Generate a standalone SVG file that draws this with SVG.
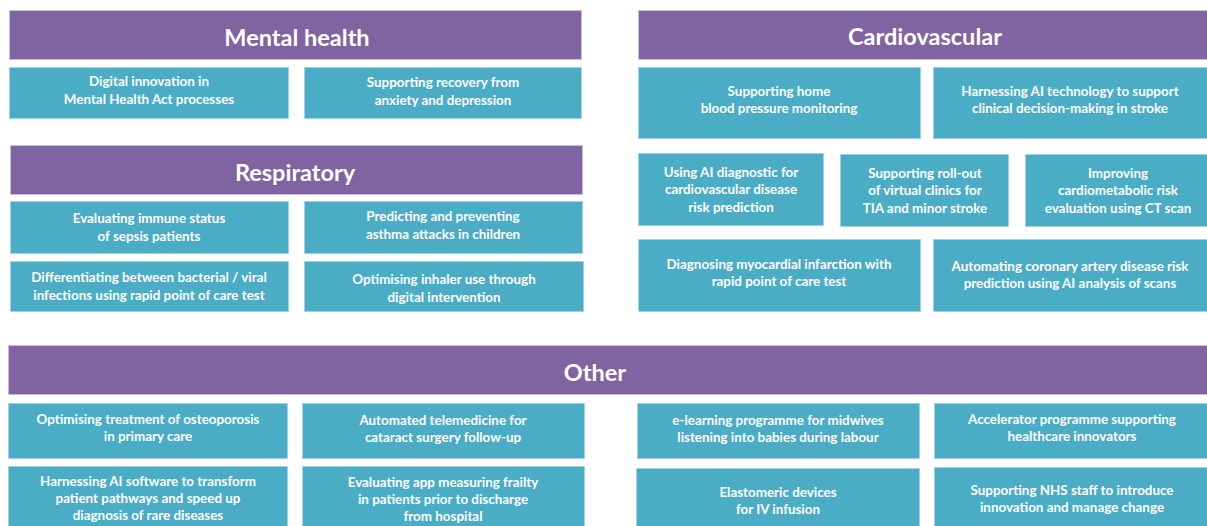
<svg xmlns="http://www.w3.org/2000/svg" width="1207" height="526" viewBox="0 0 1207 526">
<style>
.hd{fill:#8064A2;stroke:#C8BEDA;stroke-width:1}
.bx{fill:#4BACC6;stroke:#A3D3E2;stroke-width:1}
.ht{font-family:Lato,"Liberation Sans",sans-serif;font-weight:bold;font-size:23.5px;fill:#fff;text-anchor:middle}
.t{font-family:Lato,"Liberation Sans",sans-serif;font-weight:bold;font-size:13.4px;fill:#fff;text-anchor:middle}
</style>
<rect width="1207" height="526" fill="#fff"/>
<g id="mental-health">
<rect class="hd" x="9.5" y="10.5" width="572" height="49"/>
<text class="ht" x="297" y="46">Mental health</text>
</g>
<g id="mh1"><rect class="bx" x="9.5" y="67.5" width="279" height="51"/>
<text class="t" x="149" y="86">Digital innovation in</text><text class="t" x="149" y="104">Mental Health Act processes</text></g>
<g id="mh2"><rect class="bx" x="304.5" y="67.5" width="277" height="51"/>
<text class="t" x="443" y="87">Supporting recovery from</text><text class="t" x="443" y="105">anxiety and depression</text></g>

<g id="respiratory">
<rect class="hd" x="10.5" y="145.5" width="572" height="49"/>
<text class="ht" x="295" y="181">Respiratory</text>
</g>
<g id="r1"><rect class="bx" x="10.5" y="201.5" width="278" height="52"/>
<text class="t" x="149" y="223">Evaluating immune status</text><text class="t" x="149" y="241">of sepsis patients</text></g>
<g id="r2"><rect class="bx" x="304.5" y="201.5" width="278" height="52"/>
<text class="t" x="443" y="221">Predicting and preventing</text><text class="t" x="443" y="239">asthma attacks in children</text></g>
<g id="r3"><rect class="bx" x="10.5" y="261.5" width="278" height="50"/>
<text class="t" x="149" y="282">Differentiating between bacterial / viral</text><text class="t" x="149" y="300">infections using rapid point of care test</text></g>
<g id="r4"><rect class="bx" x="304.5" y="261.5" width="279" height="50"/>
<text class="t" x="444" y="284">Optimising inhaler use through</text><text class="t" x="444" y="302">digital intervention</text></g>

<g id="cardiovascular">
<rect class="hd" x="638.5" y="10.5" width="570" height="49"/>
<text class="ht" x="925" y="45">Cardiovascular</text>
</g>
<g id="c1"><rect class="bx" x="638.5" y="67.5" width="282" height="71"/>
<text class="t" x="779" y="96">Supporting home</text><text class="t" x="779" y="113">blood pressure monitoring</text></g>
<g id="c2"><rect class="bx" x="933.5" y="67.5" width="275" height="71"/>
<text class="t" x="1070" y="96">Harnessing AI technology to support</text><text class="t" x="1070" y="113">clinical decision-making in stroke</text></g>
<g id="c3"><rect class="bx" x="638.5" y="153.5" width="185" height="72"/>
<text class="t" x="731" y="177">Using AI diagnostic for</text><text class="t" x="731" y="194">cardiovascular disease</text><text class="t" x="731" y="212">risk prediction</text></g>
<g id="c4"><rect class="bx" x="840.5" y="154.5" width="168" height="72"/>
<text class="t" x="925" y="178">Supporting roll-out</text><text class="t" x="925" y="195">of virtual clinics for</text><text class="t" x="925" y="213">TIA and minor stroke</text></g>
<g id="c5"><rect class="bx" x="1025.5" y="154.5" width="183" height="72"/>
<text class="t" x="1118" y="178">Improving</text><text class="t" x="1118" y="195">cardiometabolic risk</text><text class="t" x="1118" y="213">evaluation using CT scan</text></g>
<g id="c6"><rect class="bx" x="638.5" y="239.5" width="282" height="72"/>
<text class="t" x="779" y="269">Diagnosing myocardial infarction with</text><text class="t" x="779" y="286">rapid point of care test</text></g>
<g id="c7"><rect class="bx" x="933.5" y="239.5" width="275" height="72"/>
<text class="t" x="1070" y="271">Automating coronary artery disease risk</text><text class="t" x="1070" y="288">prediction using AI analysis of scans</text></g>

<g id="other">
<rect class="hd" x="8.5" y="345.5" width="1200" height="49"/>
<text class="ht" x="595" y="381">Other</text>
</g>
<g id="o1"><rect class="bx" x="8.5" y="403.5" width="279" height="55"/>
<text class="t" x="148" y="424">Optimising treatment of osteoporosis</text><text class="t" x="148" y="441">in primary care</text></g>
<g id="o2"><rect class="bx" x="302.5" y="403.5" width="282" height="55"/>
<text class="t" x="443" y="425">Automated telemedicine for</text><text class="t" x="443" y="442">cataract surgery follow-up</text></g>
<g id="o3"><rect class="bx" x="637.5" y="403.5" width="282" height="55"/>
<text class="t" x="778" y="425">e-learning programme for midwives</text><text class="t" x="778" y="442">listening into babies during labour</text></g>
<g id="o4"><rect class="bx" x="934.5" y="403.5" width="274" height="55"/>
<text class="t" x="1072" y="424">Accelerator programme supporting</text><text class="t" x="1072" y="441">healthcare innovators</text></g>
<g id="o5"><rect class="bx" x="8.5" y="466.5" width="279" height="65"/>
<text class="t" x="148" y="486">Harnessing AI software to transform</text><text class="t" x="148" y="503">patient pathways and speed up</text><text class="t" x="148" y="520">diagnosis of rare diseases</text></g>
<g id="o6"><rect class="bx" x="302.5" y="466.5" width="282" height="65"/>
<text class="t" x="443" y="487">Evaluating app measuring frailty</text><text class="t" x="443" y="504">in patients prior to discharge</text><text class="t" x="443" y="521">from hospital</text></g>
<g id="o7"><rect class="bx" x="636.5" y="468.5" width="283" height="65"/>
<text class="t" x="778" y="497">Elastomeric devices</text><text class="t" x="778" y="514">for IV infusion</text></g>
<g id="o8"><rect class="bx" x="934.5" y="467.5" width="274" height="65"/>
<text class="t" x="1072" y="495">Supporting NHS staff to introduce</text><text class="t" x="1072" y="512">innovation and manage change</text></g>
<g id="connectors"/>
</svg>
